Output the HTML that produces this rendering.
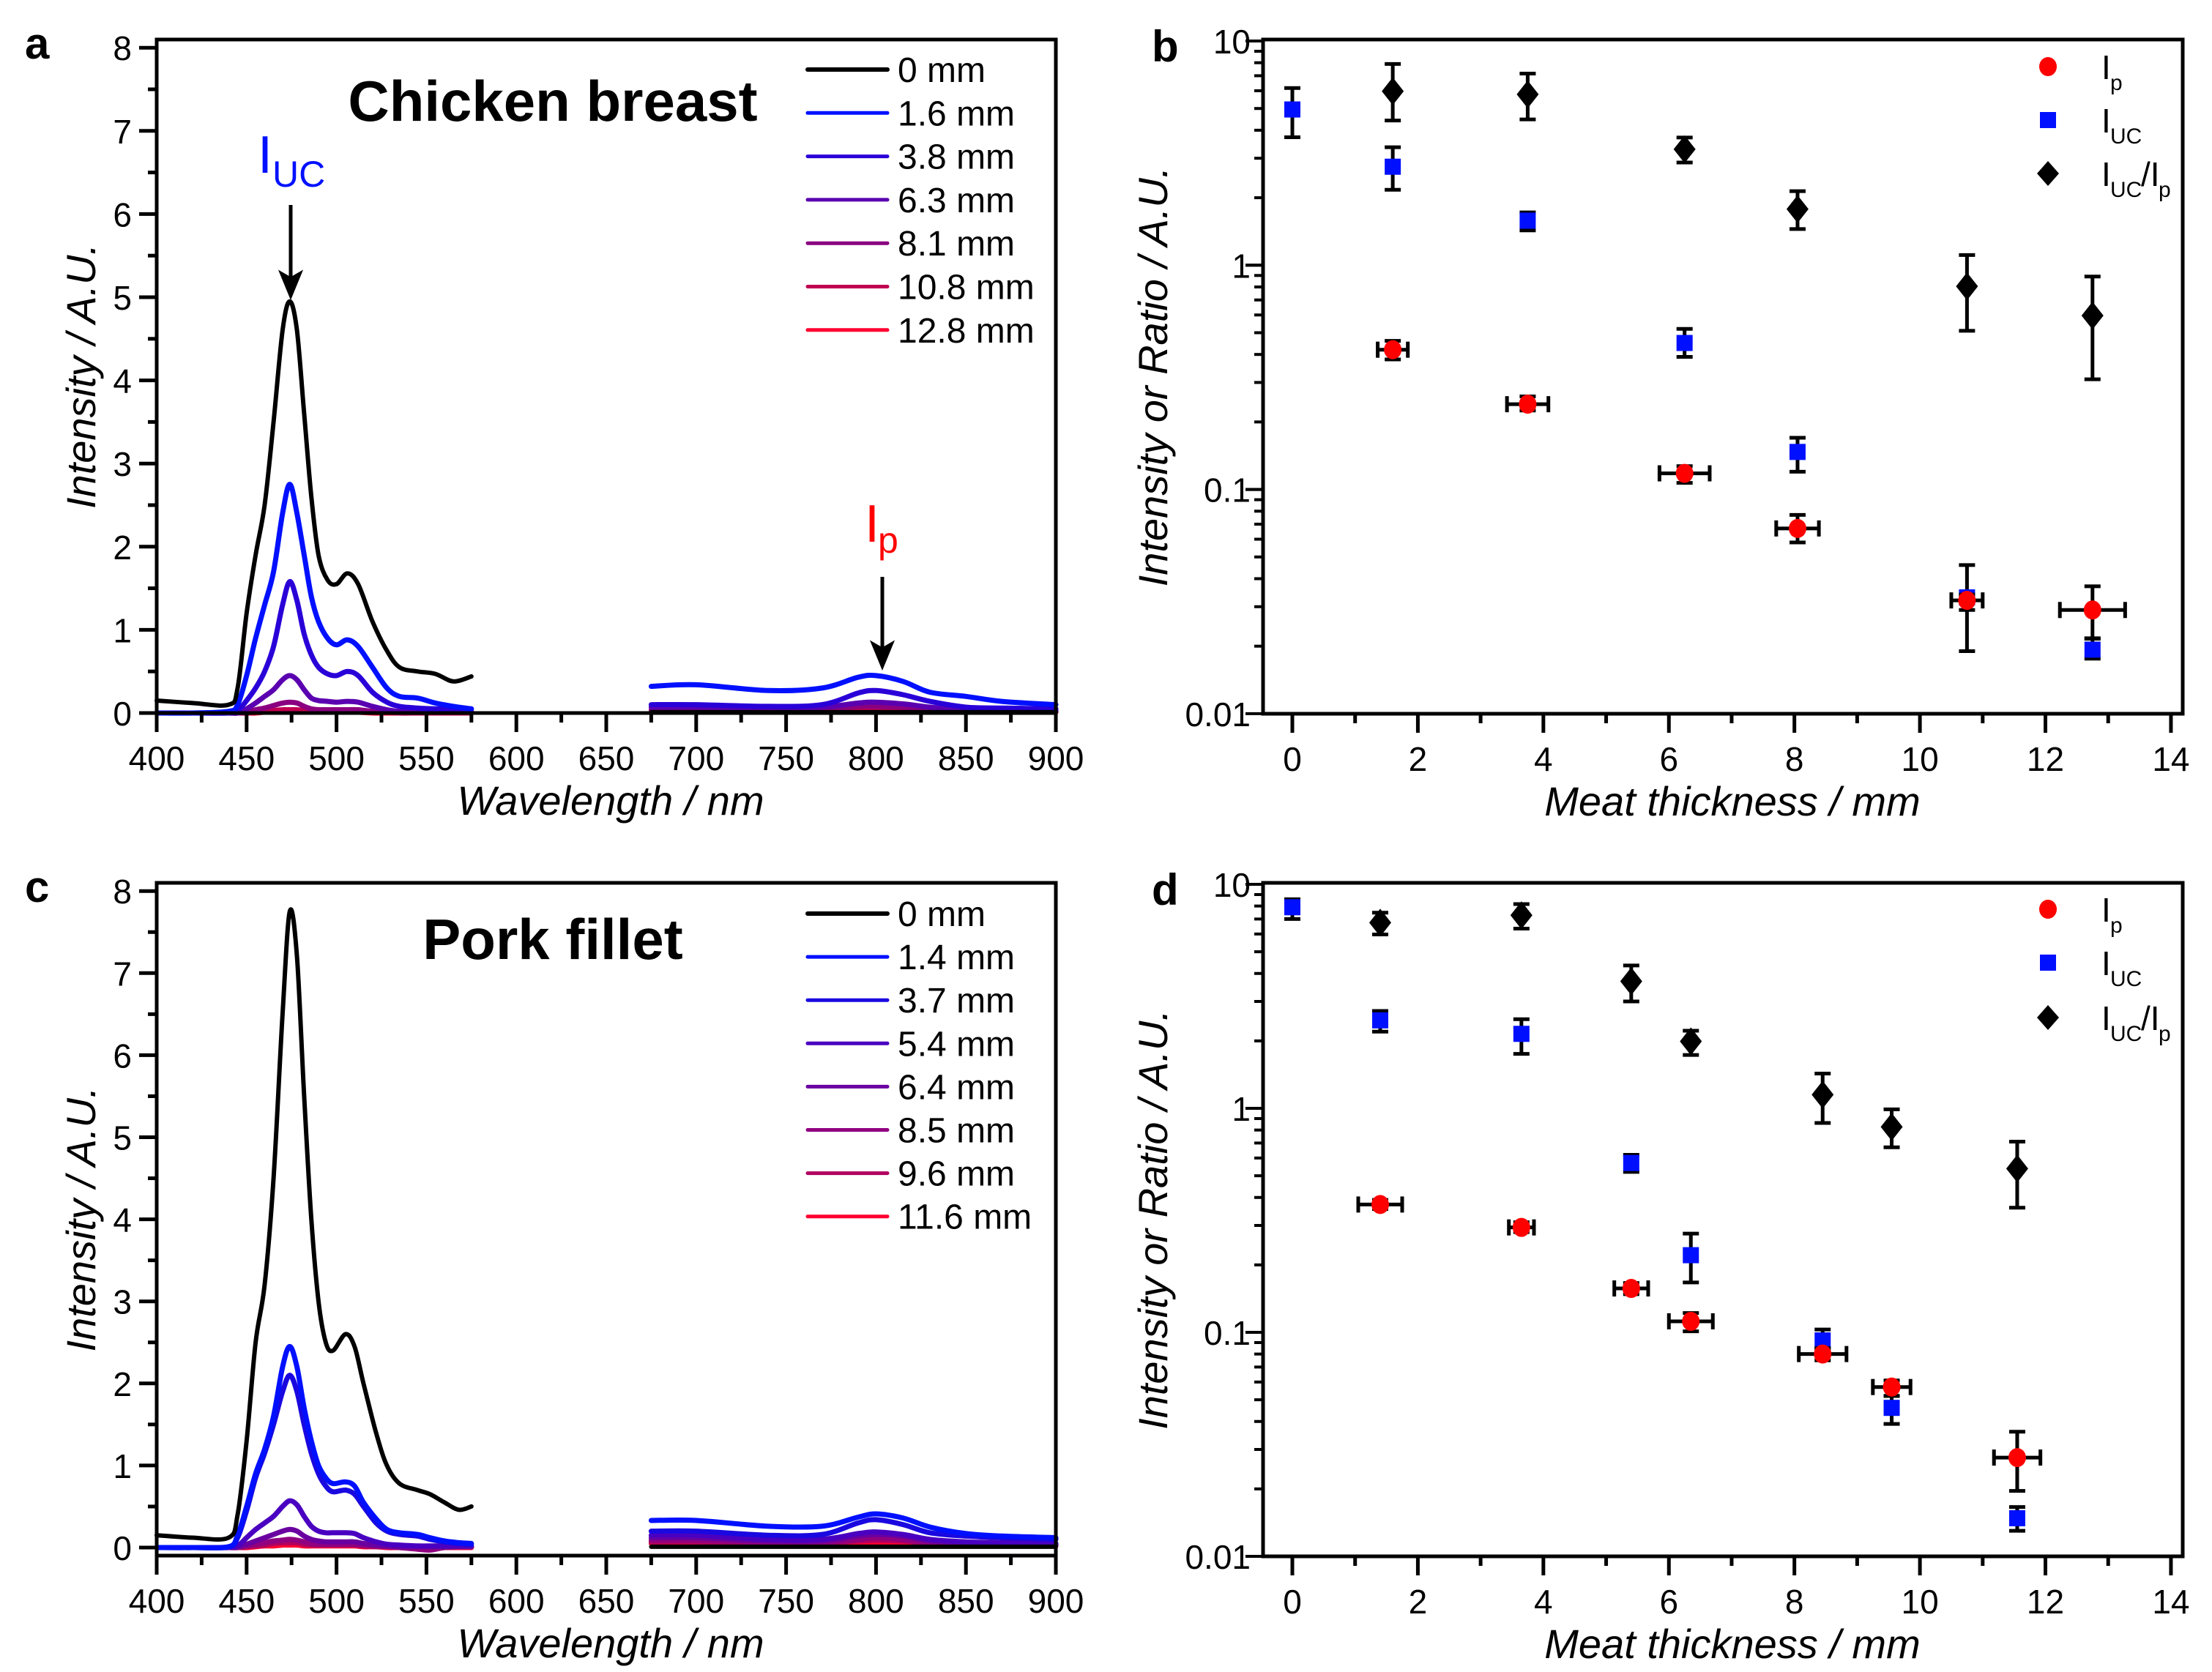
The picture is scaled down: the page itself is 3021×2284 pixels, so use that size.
<!DOCTYPE html>
<html><head><meta charset="utf-8">
<style>
html,body{margin:0;padding:0;background:#fff;}
svg{display:block;font-family:"Liberation Sans",Arial,sans-serif;}
</style></head>
<body>
<svg id="fig" width="3021" height="2284" viewBox="0 0 3021 2284" xmlns="http://www.w3.org/2000/svg"></svg>
<script>
// ---------- DATA: panel a (Chicken breast spectra) ----------
const aLabels = ["0 mm","1.6 mm","3.8 mm","6.3 mm","8.1 mm","10.8 mm","12.8 mm"];
const aColors = ["#000000","#0010ff","#2a00d8","#5a00b0","#8a0080","#c00050","#ff0030"];
const aSeg1Wl = [400,420,440,445,450,455,460,465,470,474,478,482,486,490,495,500,506,512,520,528,535,545,555,565,575];
const aSeg1 = [
 [0.15,0.12,0.10,0.30,1.20,1.90,2.50,3.50,4.60,4.95,4.60,3.60,2.60,1.90,1.60,1.55,1.68,1.55,1.10,0.75,0.55,0.50,0.47,0.38,0.44],
 [0,0,0.02,0.10,0.45,0.90,1.30,1.70,2.40,2.75,2.40,1.90,1.40,1.10,0.90,0.82,0.88,0.80,0.55,0.30,0.20,0.18,0.12,0.08,0.05],
 [0,0,0,0.03,0.15,0.30,0.50,0.80,1.30,1.58,1.35,0.95,0.70,0.55,0.47,0.45,0.50,0.45,0.25,0.13,0.08,0.06,0.05,0.05,0.05],
 [0,0,0,0,0.05,0.12,0.20,0.28,0.40,0.45,0.40,0.28,0.18,0.15,0.14,0.13,0.14,0.13,0.08,0.04,0.02,0.02,0.02,0.02,0.02],
 [0,0,0,0,0.01,0.04,0.06,0.09,0.12,0.13,0.12,0.08,0.05,0.04,0.04,0.04,0.04,0.04,0.02,0.01,0.01,0.01,0.01,0.01,0.01],
 [0,0,0,0,0,0.01,0.02,0.03,0.04,0.04,0.04,0.03,0.02,0.02,0.02,0.02,0.02,0.02,0.01,0.01,0,0,0,0,0],
 [0,0,0,0,0,0,0.01,0.01,0.01,0.01,0.01,0.01,0.01,0.01,0.01,0.01,0.01,0.01,0,0,0,0,0,0,0]
];
const aSeg2Wl = [675,700,740,770,790,800,815,830,850,870,900];
const aSeg2 = [
 [0.01,0.01,0.01,0.01,0.01,0.01,0.01,0.01,0.01,0.01,0.01],
 [0.32,0.34,0.27,0.30,0.43,0.45,0.38,0.25,0.20,0.14,0.10],
 [0.10,0.10,0.08,0.10,0.24,0.27,0.22,0.14,0.07,0.06,0.05],
 [0.07,0.07,0.06,0.07,0.12,0.13,0.11,0.07,0.04,0.03,0.03],
 [0.04,0.04,0.03,0.04,0.08,0.08,0.07,0.04,0.03,0.02,0.02],
 [0.02,0.02,0.02,0.02,0.04,0.04,0.03,0.02,0.01,0.01,0.01],
 [0.01,0.01,0.01,0.01,0.02,0.02,0.02,0.01,0.01,0.01,0.01]
];
// ---------- DATA: panel c (Pork fillet spectra) ----------
const cLabels = ["0 mm","1.4 mm","3.7 mm","5.4 mm","6.4 mm","8.5 mm","9.6 mm","11.6 mm"];
const cColors = ["#000000","#0010ff","#1a08e0","#4a00c0","#6a00a0","#900080","#b00060","#ff0030"];
const cSeg1Wl = [400,420,440,445,450,455,460,465,470,474,478,482,486,490,494,498,505,510,515,522,528,535,545,552,560,568,575];
const cSeg1 = [
 [0.15,0.12,0.12,0.40,1.30,2.50,3.20,4.50,6.50,7.75,7.20,5.50,4.00,3.00,2.50,2.40,2.60,2.45,2.00,1.40,1.00,0.78,0.70,0.65,0.55,0.46,0.50],
 [0,0,0.01,0.15,0.50,0.90,1.20,1.60,2.20,2.45,2.20,1.70,1.30,1.00,0.85,0.78,0.80,0.75,0.55,0.35,0.22,0.18,0.16,0.12,0.08,0.06,0.05],
 [0,0,0.01,0.12,0.45,0.85,1.15,1.50,1.90,2.10,1.90,1.50,1.15,0.90,0.75,0.68,0.70,0.65,0.50,0.30,0.20,0.16,0.14,0.10,0.07,0.05,0.04],
 [0,0,0,0.02,0.12,0.22,0.30,0.38,0.50,0.57,0.52,0.38,0.26,0.20,0.18,0.18,0.18,0.17,0.12,0.07,0.04,0.03,0.02,0.02,0.02,0.02,0.02],
 [0,0,0,0.01,0.04,0.08,0.12,0.16,0.20,0.22,0.20,0.14,0.10,0.08,0.07,0.07,0.07,0.07,0.05,0.03,0.02,0.01,0.01,0.01,0.01,0.01,0.01],
 [0,0,0,0,0.02,0.04,0.06,0.08,0.09,0.10,0.09,0.07,0.05,0.04,0.04,0.04,0.04,0.04,0.03,0.02,0.01,0,-0.02,-0.03,0,0.01,0.01],
 [0,0,0,0,0.01,0.02,0.03,0.05,0.06,0.06,0.06,0.04,0.03,0.03,0.03,0.03,0.03,0.03,0.02,0.01,0.01,0,-0.01,-0.01,0,0.01,0.01],
 [0,0,0,0,0,0.01,0.02,0.02,0.03,0.03,0.03,0.02,0.02,0.02,0.02,0.02,0.02,0.02,0.01,0.01,0,0,0,0,0,0,0]
];
const cSeg2Wl = [675,700,740,770,790,800,815,830,850,870,900];
const cSeg2 = [
 [0.01,0.01,0.01,0.01,0.01,0.01,0.01,0.01,0.01,0.01,0.01],
 [0.33,0.33,0.26,0.26,0.37,0.41,0.36,0.25,0.17,0.14,0.12],
 [0.20,0.20,0.15,0.16,0.30,0.34,0.28,0.18,0.14,0.12,0.10],
 [0.15,0.15,0.10,0.10,0.17,0.19,0.16,0.10,0.07,0.06,0.05],
 [0.12,0.12,0.08,0.08,0.14,0.16,0.14,0.08,0.06,0.05,0.04],
 [0.09,0.09,0.06,0.06,0.10,0.12,0.10,0.06,0.05,0.04,0.04],
 [0.07,0.07,0.05,0.05,0.08,0.09,0.08,0.05,0.04,0.03,0.03],
 [0.05,0.05,0.03,0.03,0.05,0.06,0.05,0.03,0.03,0.02,0.02]
];
// ---------- DATA: panel b ----------
const bIpX = [1.6,3.75,6.25,8.05,10.75,12.75];
const bIp = [0.42,0.24,0.118,0.067,0.032,0.029];
const bIpHi = [0.46,0.26,0.127,0.077,0.034,0.037];
const bIpLo = [0.38,0.225,0.107,0.058,0.029,0.0217];
const bIpXErr = [0.24,0.33,0.40,0.34,0.25,0.52];
const bUcX = [0,1.6,3.75,6.25,8.05,10.75,12.75];
const bUc = [4.95,2.75,1.58,0.45,0.147,0.033,0.0193];
const bUcHi = [6.17,3.36,1.72,0.52,0.17,0.046,0.0216];
const bUcLo = [3.72,2.17,1.43,0.39,0.12,0.019,0.0176];
const bRX = [1.6,3.75,6.25,8.05,10.75,12.75];
const bR = [5.97,5.78,3.29,1.78,0.805,0.596];
const bRHi = [7.9,7.16,3.71,2.14,1.11,0.89];
const bRLo = [4.42,4.47,2.87,1.45,0.51,0.31];
// ---------- DATA: panel d ----------
const dIpX = [1.4,3.65,5.4,6.35,8.45,9.55,11.55];
const dIp = [0.372,0.294,0.157,0.112,0.080,0.057,0.0276];
const dIpHi = [0.39,0.31,0.166,0.122,0.085,0.061,0.036];
const dIpLo = [0.355,0.28,0.148,0.101,0.075,0.052,0.0196];
const dIpXErr = [0.35,0.2,0.27,0.35,0.38,0.3,0.37];
const dUcX = [0,1.4,3.65,5.4,6.35,8.45,9.55,11.55];
const dUc = [7.9,2.47,2.15,0.57,0.221,0.092,0.046,0.0148];
const dUcHi = [8.58,2.72,2.5,0.62,0.276,0.103,0.052,0.0166];
const dUcLo = [7.0,2.2,1.75,0.52,0.167,0.085,0.039,0.013];
const dRX = [1.4,3.65,5.4,6.35,8.45,9.55,11.55];
const dR = [6.74,7.28,3.69,1.99,1.15,0.826,0.538];
const dRHi = [7.47,8.16,4.34,2.22,1.43,0.99,0.71];
const dRLo = [5.97,6.34,3.0,1.73,0.86,0.67,0.36];
const specXTicks = [400,450,500,550,600,650,700,750,800,850,900];
const specYTicks = [0,1,2,3,4,5,6,7,8];
const thickXTicks = [0,2,4,6,8,10,12,14];
const logYTicks = [10,1,0.1,0.01];
const logYLabels = ["10","1","0.1","0.01"];

const NS = "http://www.w3.org/2000/svg";
const svg = document.getElementById('fig');
function mk(tag, attrs, parent){
  const e = document.createElementNS(NS, tag);
  for (const k in attrs) e.setAttribute(k, attrs[k]);
  (parent||svg).appendChild(e);
  return e;
}
function txt(str, x, y, size, opts, parent){
  const e = mk('text', Object.assign({x:x, y:y, 'font-size':size, fill:'#000'}, opts||{}), parent);
  e.textContent = str;
  return e;
}
function smoothPath(pts){
  let d = 'M' + pts[0][0].toFixed(1) + ',' + pts[0][1].toFixed(1);
  for (let i=0;i<pts.length-1;i++){
    const p0 = pts[Math.max(0,i-1)], p1 = pts[i], p2 = pts[i+1], p3 = pts[Math.min(pts.length-1,i+2)];
    const c1x = p1[0]+(p2[0]-p0[0])/6, c1y = p1[1]+(p2[1]-p0[1])/6;
    const c2x = p2[0]-(p3[0]-p1[0])/6, c2y = p2[1]-(p3[1]-p1[1])/6;
    d += ' C'+c1x.toFixed(1)+','+c1y.toFixed(1)+' '+c2x.toFixed(1)+','+c2y.toFixed(1)+' '+p2[0].toFixed(1)+','+p2[1].toFixed(1);
  }
  return d;
}

function spectrumPanel(cfg){
  const g = mk('g', {});
  
  
  const X = v => cfg.left + (v-400)*(cfg.right-cfg.left)/500;
  const Y = v => cfg.y0 - v*cfg.k;
  for (let s=cfg.labels.length-1; s>=0; s--){
    const segs = [[cfg.w1, cfg.s1[s]], [cfg.w2, cfg.s2[s]]];
    segs.forEach((sg, si) => {
      const pts = sg[0].map((w,i)=>[X(w), Y(sg[1][i])]);
      const p = mk('path', {d: smoothPath(pts), fill:'none', stroke: cfg.colors[s], 'stroke-width': s===0?6:7, 'stroke-linejoin':'round', 'stroke-linecap':'round'}, g);
      
      
    });
  }
  const fr = mk('rect', {x:cfg.left, y:cfg.top, width:cfg.right-cfg.left, height:cfg.bottom-cfg.top, fill:'none', stroke:'#000', 'stroke-width':5}, g);
  
  
  for (let v=400; v<=900; v+=25){
    const major = (v%50===0);
    mk('line', {x1:X(v), x2:X(v), y1:cfg.bottom, y2:cfg.bottom+(major?26:13), stroke:'#000','stroke-width':5}, g);
  }
  specXTicks.forEach(v=>{
    const t = txt(String(v), X(v), cfg.bottom+78, 46, {'text-anchor':'middle'}, g);
    
    
  });
  for (let v=0; v<=8; v+=0.5){
    const major = (v%1===0);
    mk('line', {x1:cfg.left, x2:cfg.left-(major?24:12), y1:Y(v), y2:Y(v), stroke:'#000','stroke-width':5}, g);
  }
  specYTicks.forEach(v=>{
    const t = txt(String(v), cfg.left-34, Y(v)+17, 46, {'text-anchor':'end'}, g);
    
    
  });
  const xt = txt('Wavelength / nm', 834, cfg.bottom+139, 56, {'text-anchor':'middle','font-style':'italic'}, g);
  
  
  const yc = (cfg.top+cfg.bottom)/2;
  const yt = txt('Intensity / A.U.', 0, 0, 56, {'text-anchor':'middle','font-style':'italic', transform:'translate(130,'+yc+') rotate(-90)'}, g);
  
  
  const tt = txt(cfg.title, 755, cfg.titleY, 78, {'text-anchor':'middle','font-weight':'bold'}, g);
  
  
  const pl = txt(cfg.letter, 34, cfg.top+26, 60, {'font-weight':'bold'}, g);
  
  
  cfg.labels.forEach((lab,i)=>{
    const y = cfg.legY0 + i*cfg.legDy;
    const lg = mk('g', {}, g);
    
    
    mk('line', {x1:1103, x2:1212, y1:y, y2:y, stroke:cfg.colors[i], 'stroke-width': i===0?6:5, 'stroke-linecap':'round'}, lg);
    txt(lab, 1226, y+17, 48, {}, lg);
  });
  return {g, X, Y};
}

const A = spectrumPanel({name:'panel-a-chicken-spectra', left:214, right:1442, top:54, bottom:974, y0:974, k:113.6,
  labels:aLabels, colors:aColors, w1:aSeg1Wl, s1:aSeg1, w2:aSeg2Wl, s2:aSeg2, title:'Chicken breast', titleY:165, letter:'a', legY0:95, legDy:59.3});
(function(){
  const g = mk('g', {});
  
  
  txt('I', 352, 236, 72, {fill:'#0010ff'}, g);
  txt('UC', 372, 255, 50, {fill:'#0010ff'}, g);
  mk('line', {x1:397, x2:397, y1:280, y2:390, stroke:'#000','stroke-width':5}, g);
  mk('path', {d:'M383,372 L397,406 L411,372 L397,380 Z', fill:'#000', stroke:'#000','stroke-width':3}, g);
  txt('I', 1181, 740, 72, {fill:'#ff0000'}, g);
  txt('p', 1199, 755, 50, {fill:'#ff0000'}, g);
  mk('line', {x1:1205, x2:1205, y1:788, y2:895, stroke:'#000','stroke-width':5}, g);
  mk('path', {d:'M1191,878 L1205,912 L1219,878 L1205,886 Z', fill:'#000', stroke:'#000','stroke-width':3}, g);
})();

const C = spectrumPanel({name:'panel-c-pork-spectra', left:214, right:1442, top:1206, bottom:2125, y0:2114, k:112.1,
  labels:cLabels, colors:cColors, w1:cSeg1Wl, s1:cSeg1, w2:cSeg2Wl, s2:cSeg2, title:'Pork fillet', titleY:1310, letter:'c', legY0:1248, legDy:59.1});

function logPanel(cfg){
  const g = mk('g', {});
  
  
  const X = v => 1765 + v*85.71;
  const Y = v => cfg.y10 + (1-Math.log10(v))*cfg.dec;
  const left=1725, right=2981;
  const fr = mk('rect', {x:left, y:cfg.top, width:right-left, height:cfg.bottom-cfg.top, fill:'none', stroke:'#000','stroke-width':5}, g);
  
  
  for (let v=0; v<=14; v++){
    mk('line', {x1:X(v), x2:X(v), y1:cfg.bottom, y2:cfg.bottom+(v%2===0?26:13), stroke:'#000','stroke-width':5}, g);
  }
  thickXTicks.forEach(v=>{
    const t = txt(String(v), X(v), cfg.bottom+78, 46, {'text-anchor':'middle'}, g);
    
    
  });
  [0.01,0.1,1].forEach(d=>{
    for (let m=1;m<=10;m++){
      const v = d*m;
      const major = (m===1||m===10);
      mk('line', {x1:left, x2:left-(major?24:12), y1:Y(v), y2:Y(v), stroke:'#000','stroke-width':4}, g);
    }
  });
  logYTicks.forEach((v,i)=>{
    const t = txt(logYLabels[i], 1708, Y(v)+17, 46, {'text-anchor':'end'}, g);
    
    
  });
  const xt = txt('Meat thickness / mm', 2366, cfg.bottom+139, 56, {'text-anchor':'middle','font-style':'italic'}, g);
  
  
  const yt = txt('Intensity or Ratio / A.U.', 0, 0, 56, {'text-anchor':'middle','font-style':'italic', transform:'translate(1594,'+((cfg.top+cfg.bottom)/2)+') rotate(-90)'}, g);
  
  
  const pl = txt(cfg.letter, 1573, cfg.top+30, 60, {'font-weight':'bold'}, g);
  
  
  function vErr(x, hi, lo, parent){
    mk('line', {x1:X(x), x2:X(x), y1:Y(hi), y2:Y(lo), stroke:'#000','stroke-width':5}, parent);
    mk('line', {x1:X(x)-11, x2:X(x)+11, y1:Y(hi), y2:Y(hi), stroke:'#000','stroke-width':5}, parent);
    mk('line', {x1:X(x)-11, x2:X(x)+11, y1:Y(lo), y2:Y(lo), stroke:'#000','stroke-width':5}, parent);
  }
  cfg.rX.forEach((x,i)=>{
    const pg = mk('g', {}, g);
    
    
    vErr(x, cfg.rHi[i], cfg.rLo[i], pg);
    const cx = X(x), cy = Y(cfg.r[i]);
    mk('path', {d:'M'+cx+','+(cy-19)+' L'+(cx+15)+','+cy+' L'+cx+','+(cy+19)+' L'+(cx-15)+','+cy+' Z', fill:'#000'}, pg);
  });
  cfg.ucX.forEach((x,i)=>{
    const pg = mk('g', {}, g);
    
    
    vErr(x, cfg.ucHi[i], cfg.ucLo[i], pg);
    mk('rect', {x:X(x)-11, y:Y(cfg.uc[i])-11, width:22, height:22, fill:'#0010ff'}, pg);
  });
  cfg.ipX.forEach((x,i)=>{
    const pg = mk('g', {}, g);
    
    
    vErr(x, cfg.ipHi[i], cfg.ipLo[i], pg);
    const cy = Y(cfg.ip[i]);
    const x1 = X(x-cfg.ipXE[i]), x2 = X(x+cfg.ipXE[i]);
    mk('line', {x1:x1, x2:x2, y1:cy, y2:cy, stroke:'#000','stroke-width':5}, pg);
    mk('line', {x1:x1, x2:x1, y1:cy-11, y2:cy+11, stroke:'#000','stroke-width':5}, pg);
    mk('line', {x1:x2, x2:x2, y1:cy-11, y2:cy+11, stroke:'#000','stroke-width':5}, pg);
    mk('ellipse', {cx:X(x), cy:cy, rx:12, ry:13, fill:'#ff0000'}, pg);
  });
  const lg = mk('g', {}, g);
  
  
  const ly = cfg.legY;
  mk('ellipse', {cx:2797, cy:ly[0], rx:12, ry:13, fill:'#ff0000'}, lg);
  txt('I', 2870, ly[0]+17, 46, {}, lg); txt('p', 2882, ly[0]+32, 30, {}, lg);
  mk('rect', {x:2786, y:ly[1]-11, width:22, height:22, fill:'#0010ff'}, lg);
  txt('I', 2870, ly[1]+17, 46, {}, lg); txt('UC', 2882, ly[1]+32, 30, {}, lg);
  mk('path', {d:'M2797,'+(ly[2]-17)+' L2812,'+ly[2]+' L2797,'+(ly[2]+17)+' L2782,'+ly[2]+' Z', fill:'#000'}, lg);
  txt('I', 2870, ly[2]+17, 46, {}, lg); txt('UC', 2882, ly[2]+32, 30, {}, lg);
  txt('/I', 2924, ly[2]+17, 46, {}, lg); txt('p', 2948, ly[2]+32, 30, {}, lg);
}
logPanel({name:'panel-b-chicken-log', top:54, bottom:975, y10:56, dec:306.3, letter:'b',
  ipX:bIpX, ip:bIp, ipHi:bIpHi, ipLo:bIpLo, ipXE:bIpXErr, ucX:bUcX, uc:bUc, ucHi:bUcHi, ucLo:bUcLo,
  rX:bRX, r:bR, rHi:bRHi, rLo:bRLo, legY:[91,164,237]});
logPanel({name:'panel-d-pork-log', top:1206, bottom:2126, y10:1208, dec:306, letter:'d',
  ipX:dIpX, ip:dIp, ipHi:dIpHi, ipLo:dIpLo, ipXE:dIpXErr, ucX:dUcX, uc:dUc, ucHi:dUcHi, ucLo:dUcLo,
  rX:dRX, r:dR, rHi:dRHi, rLo:dRLo, legY:[1242,1315,1390]});
</script>
</body></html>
